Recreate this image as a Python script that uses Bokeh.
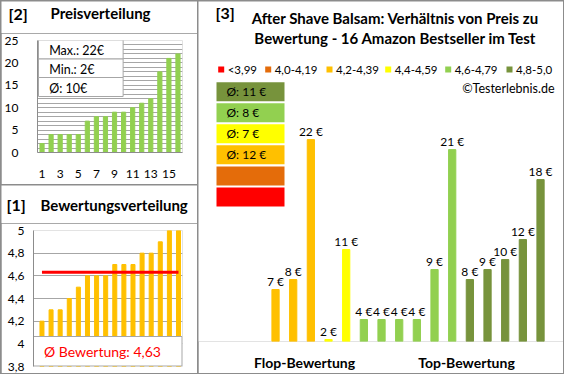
from bokeh.plotting import figure
from bokeh.models import (Range1d, FixedTicker, Label, ColumnDataSource,
                          CustomJSTickFormatter)
from bokeh.layouts import row, column
from bokeh.core.properties import value
from bokeh.embed import file_html
from bokeh.resources import INLINE

# ---------------- data ----------------
ratings = [4.2, 4.3, 4.3, 4.4, 4.5, 4.6, 4.6, 4.6, 4.7, 4.7, 4.7, 4.8, 4.8, 4.9, 5.0, 5.0]
prices_by_rating = [7, 8, 22, 2, 11, 4, 4, 4, 4, 9, 21, 8, 9, 10, 12, 18]
prices_sorted = [2, 4, 4, 4, 4, 7, 8, 8, 9, 9, 10, 11, 12, 18, 21, 22]
class_labels = ["<3,99", "4,0-4,19", "4,2-4,39", "4,4-4,59", "4,6-4,79", "4,8-5,0"]
class_lower = [0.0, 4.0, 4.2, 4.4, 4.6, 4.8]
class_colors = ["#FF0000", "#E46C0A", "#FFC000", "#FFFF00", "#92D050", "#77933C"]
group_labels = ["Flop-Bewertung", "Top-Bewertung"]
price_ticks = [0, 5, 10, 15, 20, 25]
rating_ticks = [3.8, 4.0, 4.2, 4.4, 4.6, 4.8, 5.0]
index_ticks = [1, 3, 5, 7, 9, 11, 13, 15]

FONT = "Lato"
GRID = "#a6a6a6"
AXIS = "#8c8c8c"
TXT = "#000000"

n = len(ratings)
idx = list(range(1, n + 1))


def lin(p0, p1, v0, v1):
    return lambda p: v0 + (p - p0) * (v1 - v0) / (p1 - p0)


def round_half_up(v):
    return int(v + 0.5)


def cls_of(r):
    k = 0
    for i, lo in enumerate(class_lower):
        if r >= lo - 1e-9:
            k = i
    return k


classes = [cls_of(r) for r in ratings]
bar_colors = [class_colors[c] for c in classes]
mean_rating = sum(ratings) / n
mean_price = sum(prices_sorted) / n


def style_axis(ax, size="12px", standoff=10):
    ax.axis_line_color = AXIS
    ax.major_tick_line_color = None
    ax.minor_tick_line_color = None
    ax.major_label_text_font = FONT
    ax.major_label_text_font_size = size
    ax.major_label_text_color = TXT
    ax.major_label_standoff = standoff


def lab(p, x, y, text, size="12px", bold=False, align="left", color=TXT):
    p.add_layout(Label(x=x, y=y, text=text, text_font=FONT, text_font_size=size,
                       text_font_style="bold" if bold else "normal",
                       text_align=align, text_baseline="middle", text_color=color))


def title_fig(w, h):
    t = figure(width=w, height=h, x_range=Range1d(0, w), y_range=Range1d(h, 0),
               output_backend="svg", toolbar_location=None, title=None,
               x_axis_location=None, y_axis_location=None, frame_align=False,
               min_border_left=0, min_border_right=0, min_border_top=0, min_border_bottom=0)
    t.outline_line_color = None
    t.grid.visible = False
    return t


# ---------------- [2] Preisverteilung ----------------
t2 = title_fig(196, 32)          # page y 9..41, page x 9..205
lab(t2, 16 - 9, 20.5 - 9, "[2]", size="16px", bold=True)
lab(t2, 58 - 9, 20.5 - 9, "Preisverteilung", size="15px", bold=True)

p2 = figure(width=196, height=151, x_range=Range1d(0.5, n + 0.5), y_range=Range1d(0, 25),
            output_backend="svg", toolbar_location=None, title=None, frame_align=False,
            min_border_left=32, min_border_right=15, min_border_top=7, min_border_bottom=32)
p2.outline_line_color = None
p2.xgrid.visible = False
p2.ygrid.ticker = FixedTicker(ticks=list(range(0, 26)))
p2.ygrid.grid_line_color = GRID
p2.yaxis.ticker = FixedTicker(ticks=price_ticks)
p2.xaxis.ticker = FixedTicker(ticks=index_ticks)
style_axis(p2.yaxis[0], standoff=13)
style_axis(p2.xaxis[0], standoff=11)
p2.vbar(x=idx, top=prices_sorted, bottom=0, width=0.46, color="#92D050")
X2 = lin(41, 190, 0.5, n + 0.5)
Y2 = lin(160, 48, 0, 25)
rows2 = [(47.5, 66.5), (66.5, 85), (85, 104)]
texts2 = [f"Max.: {max(prices_sorted)}€", f"Min.: {min(prices_sorted)}€",
          f"Ø: {round_half_up(mean_price)}€"]
for (t, b), s in zip(rows2, texts2):
    p2.quad(left=X2(42), right=X2(129), top=Y2(t), bottom=Y2(b),
            fill_color="white", line_color=GRID, line_width=1)
    lab(p2, X2(53), Y2((t + b) / 2 + 1), s, size="12.5px")

# ---------------- [1] Bewertungsverteilung ----------------
t1 = title_fig(196, 38)          # page y 193..231
lab(t1, 14 - 9, 212 - 193, "[1]", size="16px", bold=True)
lab(t1, 48 - 9, 212 - 193, "Bewertungsverteilung", size="15px", bold=True)

x1_lo, x1_hi = 0.07, 16.44
p1 = figure(width=196, height=150, x_range=Range1d(x1_lo, x1_hi), y_range=Range1d(3.8, 5.0),
            output_backend="svg", toolbar_location=None, title=None, x_axis_location=None,
            frame_align=False,
            min_border_left=32, min_border_right=15, min_border_top=7, min_border_bottom=7)
p1.outline_line_color = None
p1.xgrid.visible = False
p1.ygrid.ticker = FixedTicker(ticks=rating_ticks)
p1.ygrid.grid_line_color = GRID
p1.yaxis.ticker = FixedTicker(ticks=rating_ticks)
p1.yaxis.formatter = CustomJSTickFormatter(
    code="return (Math.round(tick*10)/10).toString().replace('.', ',');")
style_axis(p1.yaxis[0], standoff=3)
p1.vbar(x=idx, top=ratings, bottom=3.8, width=0.44, color="#FFC000")
p1.line(x=[idx[0], idx[-1]], y=[mean_rating, mean_rating], line_width=3, color="#FF0000")
X1 = lin(41, 190, x1_lo, x1_hi)
Y1 = lin(374, 238, 3.8, 5.0)
p1.quad(left=X1(41), right=X1(189.5), top=Y1(344), bottom=Y1(373.5),
        fill_color="white", line_color=GRID, line_width=1)
lab(p1, X1(110), Y1(359), "Ø Bewertung: " + f"{mean_rating:.2f}".replace(".", ","),
    size="14px", align="center", color="#FF0000")

# ---------------- [3] Preis vs. Bewertung ----------------
x3_lo, x3_hi = -3.36, 17.30
y3_lo, y3_hi = 1.8, 35.82
X3 = lin(206, 571, x3_lo, x3_hi)
Y3 = lin(356, 9, y3_lo, y3_hi)
group_pos = [X3(312), X3(474)]
p3 = figure(width=365, height=372, x_range=Range1d(x3_lo, x3_hi), y_range=Range1d(y3_lo, y3_hi),
            output_backend="svg", toolbar_location=None, title=None, y_axis_location=None,
            frame_align=False,
            min_border_left=0, min_border_right=0, min_border_top=0, min_border_bottom=25)
p3.outline_line_color = None
p3.grid.visible = False
p3.xaxis.ticker = FixedTicker(ticks=group_pos)
p3.xaxis.major_label_overrides = {g: t for g, t in zip(group_pos, group_labels)}
style_axis(p3.xaxis[0], size="14px", standoff=6)
p3.xaxis.axis_line_color = None
p3.xaxis.major_label_text_font_style = "bold"

src3 = ColumnDataSource(dict(x=idx, top=prices_by_rating, color=bar_colors,
                             label=[f"{v} €" for v in prices_by_rating]))
p3.vbar(x="x", top="top", bottom=y3_lo, width=0.41, color="color", source=src3)
p3.text(x="x", y="top", text="label", source=src3, text_font=value(FONT),
        text_font_size="12px", text_align="center", text_baseline="alphabetic",
        y_offset=-8, text_color=TXT)

# legend row
leg_sq_left = [225.7, 272.7, 334, 392.7, 452.7, 514]
leg_y = 78.5
p3.scatter(x=[X3(v + 3) for v in leg_sq_left], y=[Y3(leg_y)] * 6, marker="square", size=6,
           color=class_colors, line_color=None)
p3.text(x=[X3(v + 9.5) for v in leg_sq_left], y=[Y3(leg_y)] * 6, text=class_labels,
        text_font=value(FONT), text_font_size="11.5px", text_baseline="middle",
        text_align="left", text_color=TXT)
lab(p3, X3(562), Y3(98), "©Testerlebnis.de", size="12.5px", align="right")

# average price boxes (top: best class)
box_order = list(range(len(class_colors) - 1, -1, -1))
for k, c in enumerate(box_order):
    cy = 101 + k * 21.5
    p3.quad(left=X3(224), right=X3(292), top=Y3(cy - 9.7), bottom=Y3(cy + 9.7),
            color=class_colors[c], line_color=None)
    members = [p for p, cc in zip(prices_by_rating, classes) if cc == c]
    if members:
        lab(p3, X3(234), Y3(cy), f"Ø: {round_half_up(sum(members) / len(members))} €",
            size="12px")

lab(p3, X3(223), Y3(20.5), "[3]", size="16px", bold=True)
lab(p3, X3(403), Y3(26), "After Shave Balsam: Verhältnis von Preis zu", size="15px",
    bold=True, align="center")
lab(p3, X3(403), Y3(46), "Bewertung - 16 Amazon Bestseller im Test", size="15px",
    bold=True, align="center")

left = column(column(t2, p2, spacing=0), column(t1, p1, spacing=0), spacing=1)
layout = row(left, p3, spacing=1,
             styles={"background-color": "#8c8c8c", "padding": "1px"})

open("out.html", "w").write(file_html(layout, INLINE))
